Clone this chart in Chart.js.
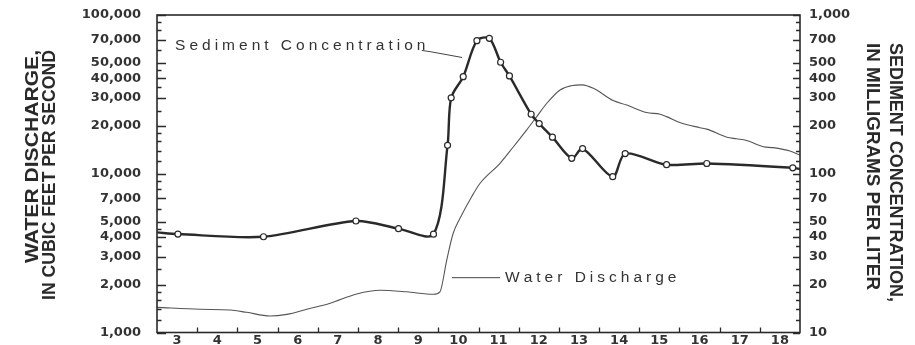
<!DOCTYPE html>
<html>
<head>
<meta charset="utf-8">
<script src="https://cdn.jsdelivr.net/npm/chart.js@4"></script>
<style>
  html, body { margin: 0; padding: 0; background: #fff; }
  #wrap { width: 915px; height: 345px; }
</style>
</head>
<body>
<div id="wrap"><canvas id="chart" width="915" height="345"></canvas></div>
<script>
// Day of month labels (each label sits in the middle of its day)
const dayLabels = [3, 4, 5, 6, 7, 8, 9, 10, 11, 12, 13, 14, 15, 16, 17, 18];

// Labelled values on the two logarithmic axes
const dischargeTickLabels = [1000, 2000, 3000, 4000, 5000, 7000, 10000, 20000, 30000, 40000, 50000, 70000, 100000];
const sedimentTickLabels = [10, 20, 30, 40, 50, 70, 100, 200, 300, 400, 500, 700, 1000];
// Log-paper subdivisions used for the tick marks within each decade
const logSubdivisions = [1, 1.2, 1.4, 1.6, 1.8, 2, 2.5, 3, 3.5, 4, 4.5, 5, 6, 7, 8, 9];

// Water discharge, cubic feet per second (time in days)
const dischargeTime = [3.0, 4.07, 4.82, 5.23, 5.81, 6.23, 6.73, 7.31, 7.97, 8.55, 9.21, 9.88, 10.04, 10.21, 10.37, 10.54, 10.83, 11.04, 11.53, 11.87, 12.2, 12.45, 12.7, 13.03, 13.3, 13.58, 13.86, 14.35, 14.69, 15.18, 15.52, 15.68, 16.01, 16.51, 16.68, 17.18, 17.42, 17.67, 18.09, 18.33, 18.75, 19.0];
const dischargeCfs = [1440, 1400, 1385, 1340, 1270, 1300, 1400, 1530, 1750, 1845, 1805, 1740, 1805, 2860, 4220, 5240, 7170, 8710, 11600, 14800, 18900, 22900, 27800, 33700, 35800, 36300, 34500, 28900, 27100, 24300, 23700, 22900, 21000, 19500, 19100, 17000, 16600, 16200, 14800, 14600, 13900, 13100];

// Suspended-sediment concentration, milligrams per liter
const sedimentTime = [3.0, 3.52, 5.65, 7.95, 9.01, 9.88, 10.23, 10.32, 10.62, 10.96, 11.27, 11.55, 11.77, 12.31, 12.51, 12.84, 13.32, 13.59, 14.34, 14.65, 15.68, 16.68, 18.82, 19.0];
const sedimentMgL = [42.7, 41.7, 40.1, 50.4, 45.1, 41.6, 151, 301, 409, 689, 713, 504, 413, 237, 207, 170, 125, 144, 95.8, 134, 114, 116, 109, 107];
const sedimentSampled = [false, true, true, true, true, true, true, true, true, true, true, true, true, true, true, true, true, true, true, true, true, true, true, false];

// Callout labels, anchored in (day, cubic feet per second)
const callouts = [
  { text: 'Sediment Concentration', at: [3.45, 59800], leader: [[9.59, 59800], [9.84, 58500], [10.59, 54000]] },
  { text: 'Water Discharge', at: [11.66, 2080], leader: [[10.34, 2214], [11.535, 2214]] }
];

const INK = '#2a2a2a';
const TICK_FONT = { family: '"DejaVu Sans", sans-serif', size: 13, weight: 'bold' };

function logTicks(min, max) {
  const out = [];
  for (let dec = min; dec < max; dec *= 10) {
    logSubdivisions.forEach(s => out.push(Math.round(s * dec)));
  }
  out.push(max);
  return out;
}
const dischargeMarks = logTicks(1000, 100000);
const sedimentMarks = logTicks(10, 1000);

// Keep the plot box exactly where the axes put it (no extra room for end labels)
function noLabelPadding(s) {
  s.paddingTop = 0;
  s.paddingBottom = 0;
  s.paddingLeft = 0;
  s.paddingRight = 0;
}

// Frame around the plot
const frame = {
  id: 'frame',
  afterDatasetsDraw(chart) {
    const { ctx, chartArea: a } = chart;
    ctx.save();
    ctx.strokeStyle = INK;
    ctx.lineWidth = 1.6;
    ctx.strokeRect(a.left, a.top, a.right - a.left, a.bottom - a.top);
    ctx.restore();
  }
};

// Inward-pointing tick marks on the bottom, left and right edges
const innerTicks = {
  id: 'innerTicks',
  afterDatasetsDraw(chart) {
    const { ctx, chartArea: a, scales } = chart;
    ctx.save();
    ctx.strokeStyle = INK;
    ctx.lineWidth = 1.3;
    ctx.beginPath();
    for (let i = 1; i < dayLabels.length; i++) {
      const x = Math.round(scales.x.getPixelForValue(dayLabels[i])) + 0.5;
      ctx.moveTo(x, a.bottom);
      ctx.lineTo(x, a.bottom - 5);
    }
    for (const v of dischargeMarks) {
      const y = Math.round(scales.y.getPixelForValue(v)) + 0.5;
      const len = dischargeTickLabels.indexOf(v) >= 0 ? 9 : 4.5;
      ctx.moveTo(a.left, y);
      ctx.lineTo(a.left + len, y);
    }
    for (const v of sedimentMarks) {
      const y = Math.round(scales.y2.getPixelForValue(v)) + 0.5;
      const len = sedimentTickLabels.indexOf(v) >= 0 ? 7 : 4;
      ctx.moveTo(a.right, y);
      ctx.lineTo(a.right - len, y);
    }
    ctx.stroke();
    ctx.restore();
  }
};

// Axis titles and the two callouts
const titlesAndCallouts = {
  id: 'titlesAndCallouts',
  afterDraw(chart) {
    const { ctx, scales } = chart;
    const fitted = (text, x, y, rot, align, length) => {
      ctx.save();
      ctx.translate(x, y);
      ctx.rotate(rot);
      ctx.font = 'bold 19px "Liberation Sans", Arial, sans-serif';
      const w = ctx.measureText(text).width;
      ctx.scale(length / w, 1);
      ctx.textAlign = align;
      ctx.textBaseline = 'alphabetic';
      ctx.fillStyle = INK;
      ctx.fillText(text, 0, 0);
      ctx.restore();
    };
    fitted('WATER DISCHARGE,', 38, 50, -Math.PI / 2, 'right', 213);
    fitted('IN CUBIC FEET PER SECOND', 55, 50, -Math.PI / 2, 'right', 250);
    fitted('SEDIMENT CONCENTRATION,', 890, 43, Math.PI / 2, 'left', 259);
    fitted('IN MILLIGRAMS PER LITER', 867, 43, Math.PI / 2, 'left', 247);

    ctx.save();
    ctx.fillStyle = '#333';
    ctx.strokeStyle = '#444';
    ctx.lineWidth = 1;
    ctx.font = '15.5px "Liberation Sans", Arial, sans-serif';
    ctx.textBaseline = 'alphabetic';
    callouts.forEach(c => {
      let x = scales.x.getPixelForValue(c.at[0]);
      const y = scales.y.getPixelForValue(c.at[1]);
      for (const ch of c.text) {
        ctx.fillText(ch, x, y);
        x += ctx.measureText(ch).width + 4;
      }
      ctx.beginPath();
      c.leader.forEach(([d, v], i) => {
        const px = scales.x.getPixelForValue(d);
        const py = scales.y.getPixelForValue(v);
        if (i === 0) ctx.moveTo(px, py); else ctx.lineTo(px, py);
      });
      ctx.stroke();
    });
    ctx.restore();
  }
};

new Chart(document.getElementById('chart'), {
  type: 'line',
  data: {
    datasets: [
      {
        label: 'Sediment Concentration',
        yAxisID: 'y2',
        data: sedimentTime.map((t, i) => ({ x: t, y: sedimentMgL[i] })),
        borderColor: '#2a2a2a',
        borderWidth: 2.4,
        tension: 0.3,
        pointRadius: sedimentSampled.map(s => (s ? 3 : 0)),
        pointBackgroundColor: '#fff',
        pointBorderColor: '#2a2a2a',
        pointBorderWidth: 1.2,
        order: 0
      },
      {
        label: 'Water Discharge',
        yAxisID: 'y',
        data: dischargeTime.map((t, i) => ({ x: t, y: dischargeCfs[i] })),
        borderColor: '#555',
        borderWidth: 1.1,
        cubicInterpolationMode: 'monotone',
        pointRadius: 0,
        order: 1
      }
    ]
  },
  options: {
    responsive: false,
    animation: false,
    devicePixelRatio: 1,
    events: [],
    layout: { padding: { top: 15, left: 0, right: 0, bottom: 0 } },
    plugins: { legend: { display: false }, tooltip: { enabled: false } },
    scales: {
      x: {
        type: 'linear',
        min: 3,
        max: 19,
        grid: { display: false, drawTicks: false },
        border: { display: false },
        afterBuildTicks: s => { s.ticks = dayLabels.map(d => ({ value: d + 0.5 })); },
        afterFit: s => { s.height = 12.5; noLabelPadding(s); },
        ticks: {
          autoSkip: false,
          maxRotation: 0,
          padding: 0,
          color: '#333',
          font: TICK_FONT,
          callback: (v, i) => String(dayLabels[i])
        }
      },
      y: {
        type: 'logarithmic',
        position: 'left',
        min: 1000,
        max: 100000,
        grid: { display: false, drawTicks: false },
        border: { display: false },
        afterBuildTicks: s => { s.ticks = dischargeTickLabels.map(v => ({ value: v })); },
        afterFit: s => { s.width = 157; noLabelPadding(s); },
        ticks: {
          autoSkip: false,
          padding: 16,
          color: '#333',
          font: TICK_FONT,
          callback: v => v.toLocaleString('en-US')
        }
      },
      y2: {
        type: 'logarithmic',
        position: 'right',
        min: 10,
        max: 1000,
        grid: { display: false, drawTicks: false },
        border: { display: false },
        afterBuildTicks: s => { s.ticks = sedimentTickLabels.map(v => ({ value: v })); },
        afterFit: s => { s.width = 115; noLabelPadding(s); },
        ticks: {
          autoSkip: false,
          padding: 9,
          color: '#333',
          font: TICK_FONT,
          callback: v => v.toLocaleString('en-US')
        }
      }
    }
  },
  plugins: [frame, innerTicks, titlesAndCallouts]
});
</script>
</body>
</html>
